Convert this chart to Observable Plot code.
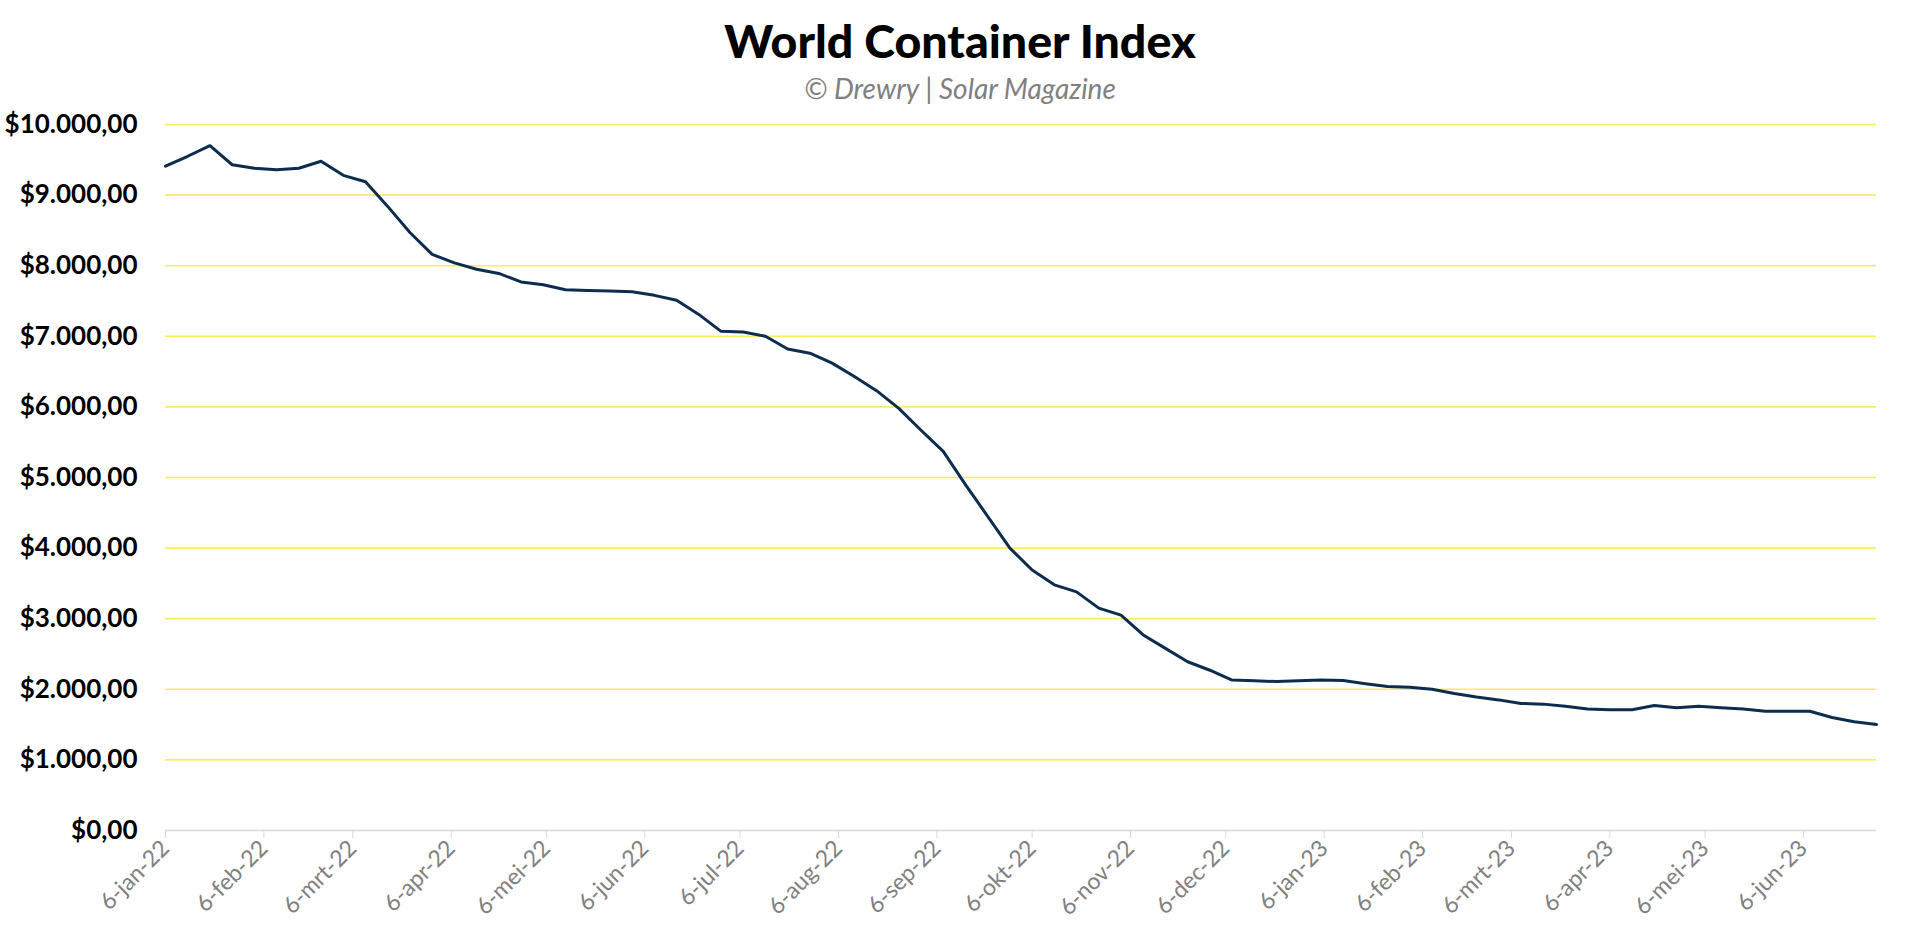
<!DOCTYPE html>
<html>
<head>
<meta charset="utf-8">
<script src="https://cdn.jsdelivr.net/npm/d3@7"></script>
<script src="https://cdn.jsdelivr.net/npm/@observablehq/plot@0.6"></script>
<style>
  html, body { margin: 0; padding: 0; background: #fff; }
  #title { height: 64px; line-height: 80px; text-align: center; font-family: Lato, sans-serif; font-weight: 900; font-size: 46.5px; color: #000; }
  #subtitle { height: 36px; line-height: 48px; text-align: center; font-family: Lato, sans-serif; font-style: italic; font-size: 28px; color: #808080; }
  #chart svg { display: block; }
</style>
</head>
<body>
<div id="title">World Container Index</div>
<div id="subtitle">© Drewry | Solar Magazine</div>
<div id="chart"></div>
<script>
// Weekly World Container Index (USD per 40ft), 6 Jan 2022 – 29 Jun 2023
const startDate = "2022-01-06";
const values = [
  9410, 9550, 9700, 9430, 9380, 9360, 9380, 9480, 9280, 9190,
  8840, 8470, 8160, 8040, 7950, 7890, 7770, 7730, 7660, 7650,
  7640, 7630, 7580, 7510, 7310, 7070, 7060, 7000, 6820, 6760,
  6620, 6430, 6230, 5980, 5670, 5370, 4900, 4450, 4000, 3690,
  3480, 3380, 3150, 3050, 2770, 2580, 2390, 2270, 2130, 2120,
  2110, 2120, 2130, 2125, 2080, 2040, 2030, 2000, 1940, 1890,
  1850, 1800, 1790, 1760, 1720, 1710, 1710, 1770, 1740, 1760,
  1740, 1720, 1690, 1690, 1690, 1600, 1540, 1500
];
const yTicks = [0, 1000, 2000, 3000, 4000, 5000, 6000, 7000, 8000, 9000, 10000];
const tickDateStrings = [
  "2022-01-06", "2022-02-06", "2022-03-06", "2022-04-06", "2022-05-06", "2022-06-06",
  "2022-07-06", "2022-08-06", "2022-09-06", "2022-10-06", "2022-11-06", "2022-12-06",
  "2023-01-06", "2023-02-06", "2023-03-06", "2023-04-06", "2023-05-06", "2023-06-06"
];
const monthNames = ["jan", "feb", "mrt", "apr", "mei", "jun", "jul", "aug", "sep", "okt", "nov", "dec"];

const start = new Date(startDate + "T00:00:00Z");
const data = values.map((v, i) => ({ date: d3.utcDay.offset(start, 7 * i), value: v }));
const tickDates = tickDateStrings.map(s => new Date(s + "T00:00:00Z"));
const endDate = data[data.length - 1].date;

const nl = d3.formatLocale({ decimal: ",", thousands: ".", grouping: [3], currency: ["$", ""] });
const yFmt = nl.format("$,.2f");
const xFmt = d => `${d.getUTCDate()}-${monthNames[d.getUTCMonth()]}-${String(d.getUTCFullYear()).slice(2)}`;

const chart = Plot.plot({
  width: 1920,
  height: 833,
  marginTop: 24,
  marginLeft: 165,
  marginRight: 44,
  marginBottom: 103,
  style: { fontFamily: "Lato, sans-serif", background: "#fff" },
  x: { type: "utc", domain: [start, endDate], label: null },
  y: { domain: [0, 10000], label: null },
  marks: [
    Plot.ruleY(yTicks.filter(d => d > 0), { stroke: "#ffec5c", strokeWidth: 1.6 }),
    Plot.ruleY([0], { stroke: "#d9d9d9", strokeWidth: 1.6 }),
    Plot.axisY({ ticks: yTicks, tickSize: 0, tickPadding: 28, tickFormat: yFmt, fontSize: 26, fontWeight: 700, fill: "#000", label: null }),
    Plot.axisX({ ticks: tickDates, tickSize: 8, tickPadding: 6, stroke: "#d9d9d9", tickRotate: -45, tickFormat: xFmt, fontSize: 23, fill: "#808080", label: null }),
    Plot.line(data, { x: "date", y: "value", stroke: "#0c2d4e", strokeWidth: 3 })
  ]
});
document.getElementById("chart").appendChild(chart);
</script>
</body>
</html>
